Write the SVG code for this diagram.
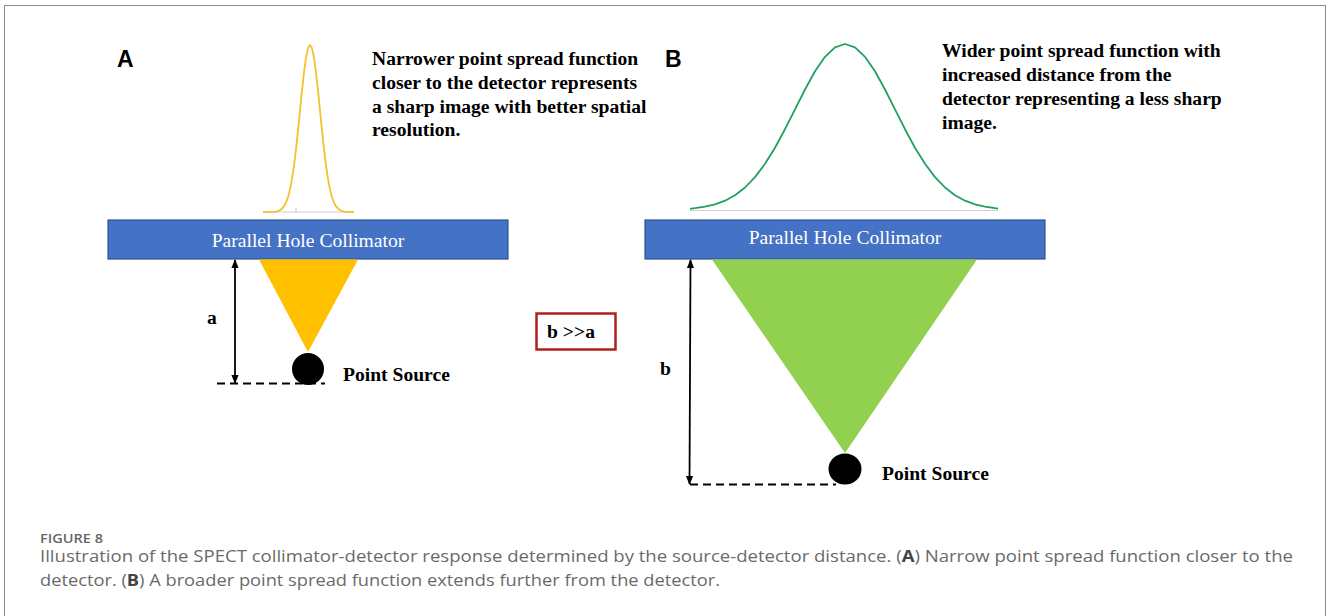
<svg xmlns="http://www.w3.org/2000/svg" width="1328" height="616" viewBox="0 0 1328 616">
<defs>
<style>
.note{font-family:"Liberation Serif","Times New Roman",serif;font-weight:bold;font-size:19.6px;fill:#000;}
.coll{fill:#4472C4;stroke:#2F528F;stroke-width:1.2;}
.colltxt{font-family:"Liberation Serif","Times New Roman",serif;font-size:19.6px;fill:#fff;}
.panel{font-family:"Liberation Sans",Arial,sans-serif;font-weight:bold;font-size:23px;fill:#000;}
.dim{stroke:#000;stroke-width:1.8;fill:none;}
.dash{stroke:#000;stroke-width:2;stroke-dasharray:8,5;fill:none;}
.base{stroke:#d0d0d0;stroke-width:1.2;fill:none;}
.cap{font-family:"Open Sans","Noto Sans",sans-serif;font-size:16px;fill:#6a6a6a;}
</style>
<marker id="ah" viewBox="0 0 10 10" refX="9" refY="5" markerWidth="9" markerHeight="9" orient="auto-start-reverse" markerUnits="userSpaceOnUse">
<path d="M0,1 L10,5 L0,9 z" fill="#000"/>
</marker>
</defs>
<rect x="0" y="0" width="1328" height="616" fill="#fff"/>
<rect x="4.5" y="5.5" width="1321" height="640" fill="none" stroke="#8a8a8a" stroke-width="1"/>

<g id="panelA">
<text class="panel" x="117" y="67">A</text>
<g id="psfA">
<line class="base" x1="263" y1="212" x2="354" y2="212"/>
<line class="base" x1="296" y1="208" x2="296" y2="212"/>
<path fill="none" stroke="#F2C230" stroke-width="1.8" stroke-linejoin="round" d="M263,212 L273,211.8 L276,211.6 L278,211 L280,210.1 L282,208.7 L284,206.3 L286,202.6 L288,197.2 L290,189.4 L292,178.9 L294,165.6 L296,149.4 L298,130.7 L300,110.7 L302,90.7 L304,72.5 L306,57.9 L308,48.3 L310,45 L312,48.3 L314,57.9 L316,72.5 L318,90.7 L320,110.7 L322,130.7 L324,149.4 L326,165.6 L328,178.9 L330,189.4 L332,197.2 L334,202.6 L336,206.3 L338,208.7 L340,210.1 L342,211 L344,211.6 L347,211.8 L354,212"/>
</g>
<g id="textA" class="note">
<text x="372" y="65">Narrower point spread function</text>
<text x="372" y="89">closer to the detector represents</text>
<text x="372" y="113">a sharp image with better spatial</text>
<text x="372" y="136">resolution.</text>
</g>
<g id="collimatorA">
<rect class="coll" x="108" y="220" width="400" height="39"/>
<text class="colltxt" x="308" y="247" text-anchor="middle">Parallel Hole Collimator</text>
</g>
<polygon id="coneA" points="259,259.6 358,259.6 308,352" fill="#FFC000"/>
<g id="sourceA">
<circle cx="308" cy="369" r="16" fill="#000"/>
<text class="note" x="343" y="381">Point Source</text>
</g>
<text class="note" x="207" y="324">a</text>
</g>

<g id="ratio">
<rect x="536.5" y="313.5" width="79" height="36" fill="#fff" stroke="#B01E1E" stroke-width="2.5"/>
<text class="note" x="547" y="338">b &gt;&gt;a</text>
</g>

<g id="panelB">
<text class="panel" x="665" y="67">B</text>
<g id="psfB">
<line class="base" x1="690" y1="210.5" x2="998" y2="210.5"/>
<path fill="none" stroke="#22A060" stroke-width="1.8" stroke-linejoin="round" d="M690,208.8 L695,208.2 L705,206.7 L715,204.4 L725,200.7 L735,195.2 L745,187.5 L755,177.1 L765,163.8 L775,147.7 L785,129.2 L795,109.3 L805,89.5 L815,71.3 L825,56.8 L835,47.3 L845,44 L855,47.3 L865,56.8 L875,71.3 L885,89.5 L895,109.3 L905,129.2 L915,147.7 L925,163.8 L935,177.1 L945,187.5 L955,195.2 L965,200.7 L975,204.4 L985,206.7 L995,208.2 L998,208.5"/>
</g>
<g id="textB" class="note">
<text x="942" y="57">Wider point spread function with</text>
<text x="942" y="81">increased distance from the</text>
<text x="942" y="105">detector representing a less sharp</text>
<text x="942" y="129">image.</text>
</g>
<g id="collimatorB">
<rect class="coll" x="645" y="220" width="400" height="39"/>
<text class="colltxt" x="845" y="244" text-anchor="middle">Parallel Hole Collimator</text>
</g>
<polygon id="coneB" points="712,259.6 977,259.6 845,453" fill="#92D050"/>
<g id="sourceB">
<ellipse cx="845" cy="469" rx="16.5" ry="15.5" fill="#000"/>
<text class="note" x="882" y="480">Point Source</text>
</g>
<text class="note" x="660" y="375">b</text>
</g>

<g id="connectors">
<line class="dim" x1="235" y1="260" x2="235" y2="383" marker-start="url(#ah)" marker-end="url(#ah)"/>
<line class="dash" x1="217" y1="383.5" x2="325" y2="383.5"/>
<line class="dim" x1="690.5" y1="260" x2="689.5" y2="484" marker-start="url(#ah)" marker-end="url(#ah)"/>
<line class="dash" x1="690" y1="484.5" x2="836" y2="484.5"/>
</g>

<g id="caption">
<text x="40" y="543" class="cap" style="font-size:13px;font-weight:600;fill:#666" textLength="63" lengthAdjust="spacingAndGlyphs">FIGURE 8</text>
<text x="40" y="562" class="cap" textLength="1253" lengthAdjust="spacingAndGlyphs">Illustration of the SPECT collimator-detector response determined by the source-detector distance. (<tspan font-weight="bold" fill="#444">A</tspan>) Narrow point spread function closer to the</text>
<text x="40" y="586" class="cap" textLength="680" lengthAdjust="spacingAndGlyphs">detector. (<tspan font-weight="bold" fill="#444">B</tspan>) A broader point spread function extends further from the detector.</text>
</g>
</svg>
